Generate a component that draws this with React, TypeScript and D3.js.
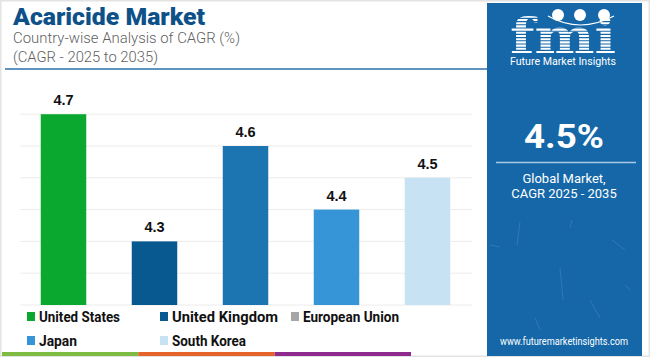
import React from "react";
import * as d3 from "d3";

const categories = ["United States", "United Kingdom", "European Union", "Japan", "South Korea"];
const values = [4.7, 4.3, 4.6, 4.4, 4.5];
const barColors = ["#0aa82e", "#07598f", "#1c74b1", "#3595d6", "#c7e2f3"];
const legendColors = ["#0aa82e", "#07598f", "#a6a6a6", "#3595d6", "#c7e2f3"];
const gridTicks = [4.1, 4.2, 4.3, 4.4, 4.5, 4.6, 4.7];
const globalValue = "4.5%";
const bottomStripColors = ["#7dbb42", "#e5622a", "#8e2a8e"];

const W = 650;
const H = 357;
const FONT = "Roboto, 'Open Sans', Arial, sans-serif";

export default function App() {
  const x = d3.scaleBand<string>().domain(categories).range([18, 473]).paddingInner(0.5).paddingOuter(0.25);
  const y = d3.scaleLinear().domain([4.1, 4.8]).range([305, 82.4]);

  const legendPos = [
    [27, 317], [160, 317], [291, 317],
    [27, 341], [160, 341],
  ];
  const legendWidths = [81, 106, 96, 38, 74];

  const stripX = d3.scaleBand<number>().domain([0, 1, 2]).range([2, 411]);

  const stripeLines = d3.range(12, 56, 3.2);

  return (
    <svg width={W} height={H} style={{ position: "absolute", left: 0, top: 0, display: "block", background: "#fff" }}>
      <rect x={0.5} y={0.5} width={W - 1} height={H - 1} fill="#fff" stroke="#e3e3e3" strokeWidth={2} />

      {/* Title */}
      <text x={13} y={25} fontFamily={FONT} fontWeight={900} fontSize={24} fill="#0e5189" textLength={192} lengthAdjust="spacingAndGlyphs">Acaricide Market</text>
      <text x={13} y={43} fontFamily={FONT} fontWeight={300} fontSize={15} fill="#5f5f5f" textLength={227} lengthAdjust="spacingAndGlyphs">Country-wise Analysis of CAGR (%)</text>
      <text x={13} y={62} fontFamily={FONT} fontWeight={300} fontSize={15} fill="#5f5f5f" textLength={145} lengthAdjust="spacingAndGlyphs">(CAGR - 2025 to 2035)</text>
      <line x1={5} x2={490} y1={69} y2={69} stroke="#2a6fae" strokeWidth={1.5} />

      {/* Gridlines */}
      {gridTicks.map((t) => (
        <line key={t} x1={20} x2={472} y1={y(t)} y2={y(t)} stroke="#ececec" strokeWidth={1} />
      ))}

      {/* Bars */}
      {categories.map((c, i) => (
        <g key={c}>
          <rect x={x(c)!} y={y(values[i])} width={x.bandwidth()} height={y(4.1) - y(values[i])} fill={barColors[i]} />
          <text x={x(c)! + x.bandwidth() / 2} y={y(values[i]) - 9} textAnchor="middle" fontFamily="'Liberation Sans', Arial, sans-serif" fontWeight={700} fontSize={14.5} fill="#111">{values[i].toFixed(1)}</text>
        </g>
      ))}

      {/* Legend */}
      {categories.map((c, i) => (
        <g key={"lg" + c}>
          <rect x={legendPos[i][0]} y={legendPos[i][1] - 5} width={8} height={9} fill={legendColors[i]} />
          <text x={legendPos[i][0] + 12} y={legendPos[i][1] + 5} fontFamily={FONT} fontWeight={700} fontSize={14.5} fill="#111" textLength={legendWidths[i]} lengthAdjust="spacingAndGlyphs">{c}</text>
        </g>
      ))}

      {/* Bottom strip */}
      {bottomStripColors.map((col, i) => (
        <rect key={col} x={stripX(i)!} y={352} width={stripX.bandwidth()} height={4} fill={col} />
      ))}

      {/* Right panel */}
      <rect x={487} y={3} width={155} height={353} fill="#1567a8" />
      <g opacity={0.18} stroke="#cfe6ff" strokeWidth={0.8}>
        <line x1={520} y1={222} x2={517} y2={245} />
        <line x1={572} y1={220} x2={570} y2={228} />
        <line x1={490} y1={245} x2={500} y2={247} />
        <line x1={612} y1={240} x2={625} y2={250} />
        <line x1={560} y1={268} x2={563} y2={300} />
        <line x1={590} y1={300} x2={600} y2={318} />
        <line x1={535} y1={318} x2={540} y2={330} />
        <line x1={625} y1={285} x2={630} y2={290} />
      </g>

      {/* Logo */}
      <g>
        <text x={563} y={54} textAnchor="middle" fontFamily="'DejaVu Serif', 'Liberation Serif', serif" fontWeight={700} fontSize={50} fill="#fff" textLength={106} lengthAdjust="spacingAndGlyphs">fmi</text>
        {stripeLines.map((sy) => (
          <line key={sy} x1={505} x2={622} y1={sy} y2={sy} stroke="#1567a8" strokeWidth={1.1} />
        ))}
        {[558, 580, 604].map((cx) => (
          <circle key={cx} cx={cx} cy={15} r={6} fill="#fff" />
        ))}
        <path d="M548,16 Q580,34 614,16" fill="none" stroke="#fff" strokeWidth={1.2} />
        <text x={563} y={65} textAnchor="middle" fontFamily={FONT} fontSize={10} fill="#fff" textLength={106} lengthAdjust="spacingAndGlyphs">Future Market Insights</text>
      </g>

      <text x={564} y={148} textAnchor="middle" fontFamily={FONT} fontWeight={700} fontSize={33} fill="#fff" textLength={80} lengthAdjust="spacingAndGlyphs">{globalValue}</text>
      <line x1={496} x2={636} y1={162.5} y2={162.5} stroke="#a9c9e6" strokeWidth={1.5} />
      <text x={564} y={183} textAnchor="middle" fontFamily={FONT} fontSize={13} fill="#fff">Global Market,</text>
      <text x={564} y={198} textAnchor="middle" fontFamily={FONT} fontSize={13} fill="#fff">CAGR 2025 - 2035</text>
      <text x={564} y={345} textAnchor="middle" fontFamily={FONT} fontSize={10} fill="#fff" textLength={128} lengthAdjust="spacingAndGlyphs">www.futuremarketinsights.com</text>
    </svg>
  );
}
